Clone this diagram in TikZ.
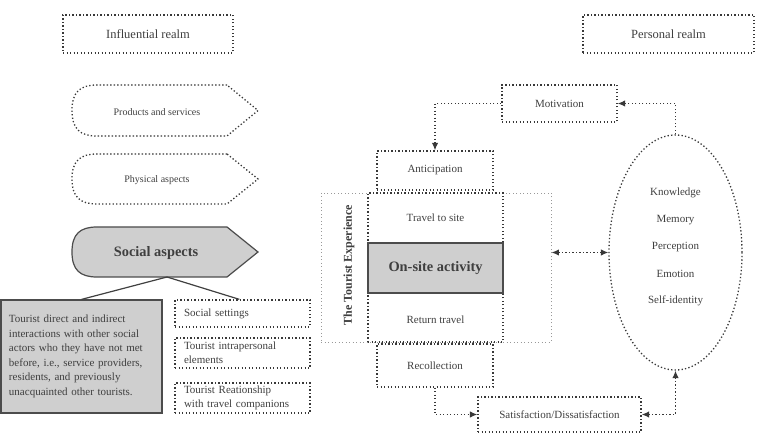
\documentclass[tikz,border=0pt]{standalone}
\usepackage{fontspec}
\setmainfont{Liberation Serif}
\usetikzlibrary{arrows.meta,shapes.geometric}
\definecolor{txtc}{HTML}{3F3F3F}
\definecolor{boxgray}{HTML}{CFCFCF}
\begin{document}
\begin{tikzpicture}[x=1pt,y=-1pt,
 dotb/.style={draw=black!78, line width=1.3pt, dash pattern=on 1.3pt off 2.2pt},
 dotl/.style={draw=black!40, line width=0.9pt, dash pattern=on 1pt off 2.5pt},
 lbl/.style={text=txtc, font=\fontsize{11}{14}\selectfont, inner sep=0pt},
 boxn/.style={dotb, rectangle, inner sep=0pt},
 solidg/.style={fill=boxgray, draw=black!70, line width=1.2pt},
 tip/.style={-{Latex[length=7.5pt,width=6.5pt]}},
 tips/.style={{Latex[length=7.5pt,width=6.5pt]}-{Latex[length=7.5pt,width=6.5pt]}},
]
\useasboundingbox (0,0) rectangle (763,435);

% realm headers
\node[boxn, lbl, font=\fontsize{12.5}{15}\selectfont, minimum width=170, minimum height=38] (infl) at (148,34) {Influential realm};
\node[boxn, lbl, font=\fontsize{12.5}{15}\selectfont, minimum width=171, minimum height=38] (pers) at (668.5,34) {Personal realm};

% influential tags
\draw[dotb] (227,85) -- (97,85) .. controls (80,85) and (72,92) .. (72,110.5) .. controls (72,129) and (80,136) .. (97,136) -- (227,136) -- (258,110.5) -- cycle;
\node[lbl, font=\fontsize{10}{12}\selectfont] (prod) at (157,112) {Products and services};
\draw[dotb] (227,154) -- (97,154) .. controls (80,154) and (72,161) .. (72,179) .. controls (72,197) and (80,204) .. (97,204) -- (227,204) -- (258,179) -- cycle;
\node[lbl, font=\fontsize{10}{12}\selectfont] (phys) at (157,180.5) {Physical aspects};
\draw[solidg] (227,227) -- (97,227) .. controls (80,227) and (72,234) .. (72,252) .. controls (72,270) and (80,277) .. (97,277) -- (227,277) -- (258,252) -- cycle;
\node[lbl, font=\bfseries\fontsize{14.4}{17}\selectfont] (soc) at (156,253.5) {Social aspects};
\coordinate (socapex) at (167,277);

% social details
\node[solidg, rectangle, lbl, inner xsep=8pt, text width=145pt, align=left, minimum height=113, font=\fontsize{11}{14.5}\selectfont] (grayb) at (81.5,356.5) {Tourist direct and indirect\\interactions with other social\\actors who they have not met\\before, i.e., service providers,\\residents, and previously\\unacquainted other tourists.};
\node[boxn, lbl, inner xsep=9pt, text width=117pt, align=left, minimum height=27] (sett) at (242.5,313.5) {Social settings};
\node[boxn, lbl, inner xsep=9pt, text width=117pt, align=left, minimum height=30, font=\fontsize{11}{14}\selectfont] (intra) at (242.5,353) {Tourist intrapersonal\\elements};
\node[boxn, lbl, inner xsep=9pt, text width=117pt, align=left, minimum height=30, font=\fontsize{11}{13.5}\selectfont] (rel) at (242.5,398) {Tourist Reationship\\with travel companions};
\draw[draw=black!75, line width=1.2pt] (grayb.north) -- (socapex) -- ([xshift=65pt]sett.north west);

% personal realm side
\node[boxn, lbl, minimum width=115, minimum height=37] (motiv) at (559.5,103.5) {Motivation};
\node[boxn, lbl, minimum width=116, minimum height=39] (antic) at (435,170.5) {Anticipation};
\node[dotl, rectangle, minimum width=230, minimum height=149, inner sep=0pt] (exp) at (436,267.5) {};
\node[lbl, font=\bfseries\fontsize{12}{14}\selectfont, rotate=90] (explbl) at (349,265) {The Tourist Experience};
\node[boxn, minimum width=135, minimum height=149] (col) at (435.5,267.5) {};
\node[lbl] (travel) at (435.5,218) {Travel to site};
\node[solidg, rectangle, line width=1.5pt, minimum width=135, minimum height=50, lbl, font=\bfseries\fontsize{14.4}{17}\selectfont] (onsite) at (435.5,268) {On-site activity};
\node[lbl] (ret) at (435.5,320) {Return travel};
\node[boxn, lbl, minimum width=116, minimum height=43] (recol) at (435,365.5) {Recollection};
\node[boxn, lbl, minimum width=163, minimum height=35] (satis) at (559.5,414.5) {Satisfaction/Dissatisfaction};

\node[dotb, ellipse, minimum width=133, minimum height=235, inner sep=0pt] (ell) at (675.5,252.5) {};
\node[lbl] (know) at (675.5,193) {Knowledge};
\node[lbl] (mem) at (675.5,220) {Memory};
\node[lbl] (perc) at (675.5,247) {Perception};
\node[lbl] (emo) at (675.5,274) {Emotion};
\node[lbl] (self) at (675.5,301) {Self-identity};

% connectors
\draw[dotb, tip] (motiv.west) -| (antic.north);
\draw[dotb, tip] (ell.north) |- (motiv.east);
\draw[dotb, tip] (recol.south) |- (satis.west);
\draw[dotb, tips] (ell.south) |- (satis.east);
\draw[dotb, tips] (exp.east |- ell.west) -- (ell.west);
\end{tikzpicture}
\end{document}
